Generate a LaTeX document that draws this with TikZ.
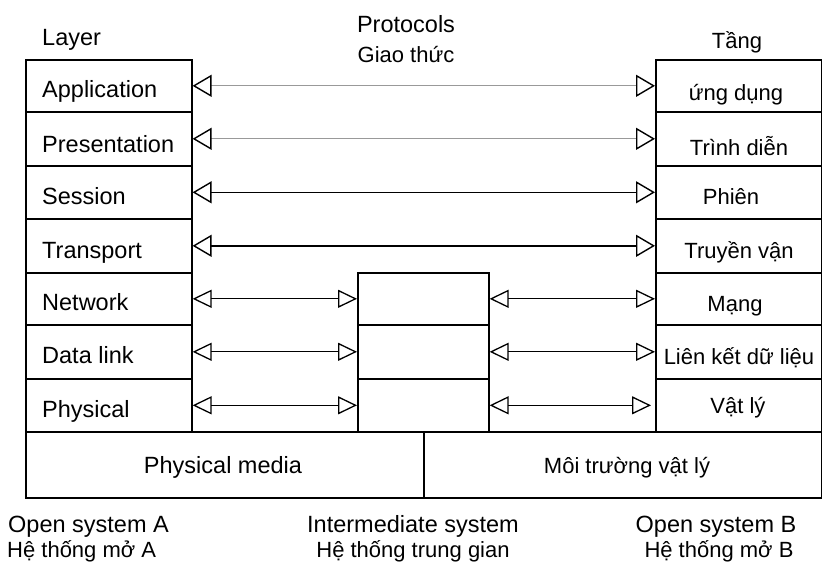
\documentclass[tikz,border=0pt]{standalone}
\usepackage{fontspec}
\setmainfont{Liberation Sans}
\usetikzlibrary{arrows.meta}
\begin{document}
\begin{tikzpicture}[x=1pt,y=-1pt,
  layerbox/.style={draw, line width=1.6pt, inner sep=0pt, anchor=north west},
  en/.style={inner sep=0pt, font=\fontsize{23.5}{27}\selectfont},
  vn/.style={inner sep=0pt, font=\fontsize{22}{26}\selectfont},
  tipo/.tip={Triangle[open,length=19pt,width=22pt,line width=1.4pt,color=black]},
  tips/.tip={Triangle[open,length=19pt,width=18pt,line width=1.3pt,color=black]},
  greyproto/.style={draw=black!40, line width=1.1pt, arrows={tipo-tipo}},
  proto/.style={draw=black, line width=1.6pt, arrows={tipo-tipo}},
  hop/.style={draw=black, line width=1.2pt, arrows={tips-tips}}]
\useasboundingbox (0,0) rectangle (822,566);
% left stack (open system A)
\node[layerbox, minimum width=166pt, minimum height=52pt] (a7) at (25,59) {};
\node[layerbox, minimum width=166pt, minimum height=54pt] (a6) at (25,111) {};
\node[layerbox, minimum width=166pt, minimum height=53pt] (a5) at (25,165) {};
\node[layerbox, minimum width=166pt, minimum height=54pt] (a4) at (25,218) {};
\node[layerbox, minimum width=166pt, minimum height=52pt] (a3) at (25,272) {};
\node[layerbox, minimum width=166pt, minimum height=54pt] (a2) at (25,324) {};
\node[layerbox, minimum width=166pt, minimum height=53pt] (a1) at (25,378) {};
% right stack (open system B)
\node[layerbox, minimum width=166pt, minimum height=52pt] (b7) at (655,59) {};
\node[layerbox, minimum width=166pt, minimum height=54pt] (b6) at (655,111) {};
\node[layerbox, minimum width=166pt, minimum height=53pt] (b5) at (655,165) {};
\node[layerbox, minimum width=166pt, minimum height=54pt] (b4) at (655,218) {};
\node[layerbox, minimum width=166pt, minimum height=52pt] (b3) at (655,272) {};
\node[layerbox, minimum width=166pt, minimum height=54pt] (b2) at (655,324) {};
\node[layerbox, minimum width=166pt, minimum height=53pt] (b1) at (655,378) {};
% intermediate system
\node[layerbox, minimum width=131pt, minimum height=52pt] (i3) at (357,272) {};
\node[layerbox, minimum width=131pt, minimum height=54pt] (i2) at (357,324) {};
\node[layerbox, minimum width=131pt, minimum height=53pt] (i1) at (357,378) {};
% physical media
\node[layerbox, minimum width=398pt, minimum height=66pt] (ma) at (25,431) {};
\node[layerbox, minimum width=398pt, minimum height=66pt] (mb) at (423,431) {};
% headings
\node[en, anchor=base west] (layer) at (42,45) {Layer};
\node[en, anchor=base] (proto) at (406,32) {Protocols};
\node[vn, anchor=base] (giao) at (406,62) {Giao thức};
\node[vn, anchor=base] (tang) at (737,48) {Tầng};
% left labels
\node[en, anchor=base west] (la7) at (42,97) {Application};
\node[en, anchor=base west] (la6) at (42,152) {Presentation};
\node[en, anchor=base west] (la5) at (42,204) {Session};
\node[en, anchor=base west] (la4) at (42,258) {Transport};
\node[en, anchor=base west] (la3) at (42,310) {Network};
\node[en, anchor=base west] (la2) at (42,363) {Data link};
\node[en, anchor=base west] (la1) at (42,417) {Physical};
% right labels
\node[vn, anchor=base] (lb7) at (736,100) {ứng dụng};
\node[vn, anchor=base] (lb6) at (739,155) {Trình diễn};
\node[vn, anchor=base] (lb5) at (731,204) {Phiên};
\node[vn, anchor=base] (lb4) at (739,258) {Truyền vận};
\node[vn, anchor=base] (lb3) at (735,311) {Mạng};
\node[vn, anchor=base] (lb2) at (739,364) {Liên kết dữ liệu};
\node[vn, anchor=base] (lb1) at (738,413) {Vật lý};
% media labels
\node[en, anchor=base] (lma) at (223,473) {Physical media};
\node[vn, anchor=base] (lmb) at (627,473) {Môi trường vật lý};
% system labels
\node[en, anchor=base west] (sa) at (8,532) {Open system A};
\node[vn, anchor=base west] (sav) at (7,557) {Hệ thống mở A};
\node[en, anchor=base] (si) at (413,532) {Intermediate system};
\node[vn, anchor=base] (siv) at (413,557) {Hệ thống trung gian};
\node[en, anchor=base] (sb) at (716,532) {Open system B};
\node[vn, anchor=base] (sbv) at (719,557) {Hệ thống mở B};
% peer protocols
\draw[greyproto] (a7.east) -- (b7.west);
\draw[greyproto] (a6.east) -- (b6.west);
\draw[proto] (a5.east) -- (b5.west);
\draw[proto] (a4.east) -- (b4.west);
\draw[hop] (a3.east) -- (i3.west);
\draw[hop] (a2.east) -- (i2.west);
\draw[hop] (a1.east) -- (i1.west);
\draw[hop] (i3.east) -- (b3.west);
\draw[hop] (i2.east) -- (b2.west);
\draw[hop] (i1.east) -- ([xshift=-4pt]b1.west);
\end{tikzpicture}
\end{document}
